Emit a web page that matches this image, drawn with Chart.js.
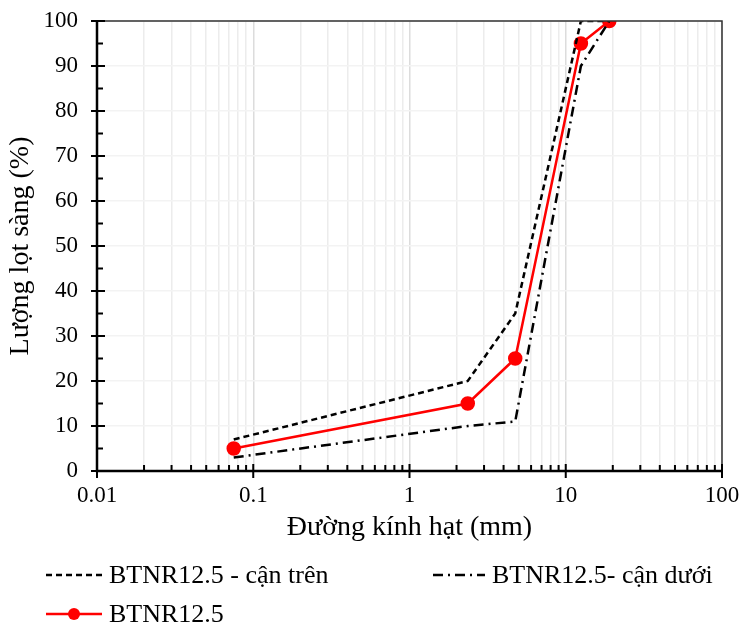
<!DOCTYPE html>
<html>
<head>
<meta charset="utf-8">
<script src="https://cdn.jsdelivr.net/npm/chart.js@4.4.1/dist/chart.umd.min.js"></script>
<style>
  body { margin: 0; background: #fff; }
  #wrap { position: relative; width: 742px; height: 625px; font-family: "Liberation Serif", "Times New Roman", serif; }
  .leg { position: absolute; display: flex; align-items: center; font-size: 26px; line-height: 30px; color: #000; white-space: nowrap; }
  .leg svg { margin-right: 6px; }
</style>
</head>
<body>
<div id="wrap">
  <canvas id="gradChart" width="742" height="625"></canvas>
  <div class="leg" style="left:45px; top:560px;">
    <svg width="58" height="12"><line x1="1" y1="6" x2="57" y2="6" stroke="#000" stroke-width="2.5" stroke-dasharray="6,4"/></svg>BTNR12.5 - cận trên
  </div>
  <div class="leg" style="left:432px; top:560px;">
    <svg width="54" height="12"><line x1="1" y1="6" x2="53" y2="6" stroke="#000" stroke-width="2.5" stroke-dasharray="10,5,2,5"/></svg>BTNR12.5- cận dưới
  </div>
  <div class="leg" style="left:45px; top:599px;">
    <svg width="58" height="14"><line x1="1" y1="7" x2="57" y2="7" stroke="#ff0000" stroke-width="2.5"/><circle cx="29" cy="7" r="6" fill="#ff0000"/></svg>BTNR12.5
  </div>
</div>
<script>
// Sieve sizes (mm) and percent passing
const sieveSizes = [0.075, 2.36, 4.75, 12.5, 19];
const upperLimit = [7, 20, 35, 100, 100];
const lowerLimit = [3, 10, 11, 90, 100];
const mixPassing = [5, 15, 25, 95, 100];

const xMajorTicks = [0.01, 0.1, 1, 10, 100];
const yTicks = [0, 10, 20, 30, 40, 50, 60, 70, 80, 90, 100];

const toPoints = (ys) => sieveSizes.map((x, i) => ({ x: x, y: ys[i] }));

// all log ticks 1..9 x 10^n between the majors
const xAllTicks = [];
xMajorTicks.forEach((m, i) => {
    if (i === xMajorTicks.length - 1) { xAllTicks.push(m); return; }
    for (let k = 1; k <= 9; k++) xAllTicks.push(+(m * k).toPrecision(3));
});

// frame + tick marks drawn like the Excel chart
const frameTicks = {
    id: "frameTicks",
    afterDraw(chart) {
        const { ctx, chartArea: a, scales } = chart;
        ctx.save();
        // top and right border
        ctx.lineWidth = 1.5;
        ctx.strokeStyle = "#333";
        ctx.beginPath();
        ctx.moveTo(a.left, a.top); ctx.lineTo(a.right, a.top); ctx.lineTo(a.right, a.bottom);
        ctx.stroke();
        // axes
        ctx.strokeStyle = "#000";
        ctx.lineWidth = 2.5;
        ctx.beginPath();
        ctx.moveTo(a.left, a.top); ctx.lineTo(a.left, a.bottom); ctx.lineTo(a.right, a.bottom);
        ctx.stroke();
        ctx.lineWidth = 2;
        ctx.beginPath();
        yTicks.forEach(v => {
            const y = scales.y.getPixelForValue(v);
            ctx.moveTo(a.left - 6, y); ctx.lineTo(a.left + 8, y);
            if (v < 100) {
                const ym = scales.y.getPixelForValue(v + 5);
                ctx.moveTo(a.left, ym); ctx.lineTo(a.left + 6, ym);
            }
        });
        xAllTicks.forEach(v => {
            const x = scales.x.getPixelForValue(v);
            if (xMajorTicks.includes(v)) {
                ctx.moveTo(x, a.bottom - 7); ctx.lineTo(x, a.bottom + 7);
            } else {
                ctx.moveTo(x, a.bottom - 6); ctx.lineTo(x, a.bottom);
            }
        });
        ctx.stroke();
        ctx.restore();
    }
};

const tickFont = { family: "'Liberation Serif', 'Times New Roman', serif", size: 23 };
const titleFont = { family: "'Liberation Serif', 'Times New Roman', serif", size: 28 };

const ctx = document.getElementById("gradChart").getContext("2d");
const gradChart = new Chart(ctx, {
    type: "scatter",
    data: {
        datasets: [
            {
                label: "BTNR12.5 - cận trên",
                data: toPoints(upperLimit),
                showLine: true,
                borderColor: "#000",
                borderWidth: 2.5,
                borderDash: [6, 4],
                pointRadius: 0,
            },
            {
                label: "BTNR12.5- cận dưới",
                data: toPoints(lowerLimit),
                showLine: true,
                borderColor: "#000",
                borderWidth: 2.5,
                borderDash: [10, 5, 2, 5],
                pointRadius: 0,
            },
            {
                label: "BTNR12.5",
                data: toPoints(mixPassing),
                showLine: true,
                borderColor: "#ff0000",
                backgroundColor: "#ff0000",
                borderWidth: 2.5,
                pointRadius: 6,
            },
        ]
    },
    options: {
        responsive: false,
        animation: false,
        layout: { padding: { left: 0, right: 20, top: 21, bottom: 81 } },
        plugins: { legend: { display: false }, tooltip: { enabled: false } },
        scales: {
            x: {
                type: "logarithmic",
                min: 0.01,
                max: 100,
                afterBuildTicks: (s) => { s.ticks = xAllTicks.map(v => ({ value: v })); },
                afterFit: (s) => { s.height = 73; s.paddingLeft = 0; s.paddingRight = 0; },
                ticks: {
                    color: "#000",
                    font: tickFont,
                    padding: 11,
                    autoSkip: false,
                    maxRotation: 0,
                    callback: (v) => xMajorTicks.includes(v) ? String(v) : "",
                },
                grid: {
                    drawTicks: false,
                    color: (c) => xMajorTicks.includes(c.tick && c.tick.value) ? "#dcdcdc" : "#ececec",
                    lineWidth: 1.5,
                },
                border: { display: false },
                title: { display: true, text: "Đường kính hạt (mm)", color: "#000", font: titleFont, padding: { top: 0, bottom: 0 } },
            },
            y: {
                min: 0,
                max: 100,
                afterFit: (s) => { s.width = 97; s.paddingTop = 0; s.paddingBottom = 0; },
                ticks: { stepSize: 10, color: "#000", font: tickFont, padding: 19 },
                grid: { drawTicks: false, color: "#f3f3f3", lineWidth: 1.5 },
                border: { display: false },
                title: { display: true, text: "Lượng lọt sàng (%)", color: "#000", font: titleFont, padding: { top: 4, bottom: 0 } },
            }
        }
    },
    plugins: [frameTicks]
});
</script>
</body>
</html>
